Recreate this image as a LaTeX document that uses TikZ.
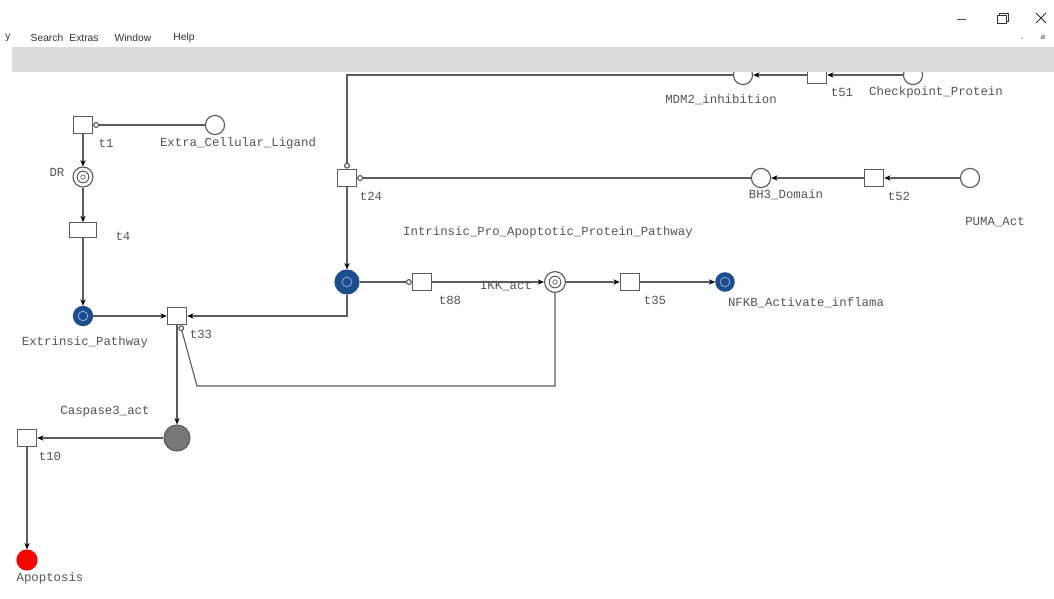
\documentclass[tikz,border=0pt]{standalone}
\usepackage{fontspec}
\usepackage{tikz}
\usetikzlibrary{arrows.meta,positioning,calc}
\newfontfamily\netfont{Liberation Mono}
\newfontfamily\menufont{Liberation Sans}
\definecolor{arcgray}{HTML}{5C5C5C}
\definecolor{labgray}{HTML}{555555}
\definecolor{tokblue}{HTML}{1C4E8F}
\definecolor{ringblue}{HTML}{8CA8D0}
\definecolor{bargray}{HTML}{DCDCDC}
\definecolor{caspgray}{HTML}{787878}
\tikzset{
  place/.style={circle,draw=arcgray,line width=0.8pt,fill=white,minimum size=4.8mm,inner sep=0pt},
  dplace/.style={place,minimum size=5mm,path picture={
      \draw[arcgray,line width=0.7pt] (path picture bounding box.center) circle (1.45mm);
      \draw[arcgray,line width=0.5pt] (path picture bounding box.center) circle (0.55mm);}},
  bplace/.style={place,draw=tokblue,fill=tokblue,path picture={
      \draw[ringblue,line width=0.6pt] (path picture bounding box.center) circle (1.2mm);}},
  trans/.style={rectangle,draw=arcgray,line width=0.8pt,fill=white,minimum width=4.8mm,minimum height=4.4mm,inner sep=0pt},
  wtrans/.style={trans,minimum width=6.8mm,minimum height=3.6mm},
  lab/.style={font=\netfont\fontsize{8.8}{10}\selectfont,text=labgray,inner sep=0pt},
  menu/.style={font=\menufont\fontsize{7.3}{8}\selectfont,text=black!80,inner sep=0pt},
  arc/.style={draw=arcgray,line width=0.8pt,-{Stealth[length=1.6mm,width=1.3mm,color=black]}},
  inh/.style={draw=arcgray,line width=0.8pt,-{Circle[open,length=1.5mm,color=arcgray]}}
}
\begin{document}
\begin{tikzpicture}[x=0.025cm,y=-0.025cm]
\fill[white] (0,0) rectangle (1054,599);
\useasboundingbox (0,0) rectangle (1054,599);
% places
\node[place] (ECL) at (215,125) {};
\node[dplace] (DR) at (83,177) {};
\node[bplace] (Extr) at (83,316) {};
\node[bplace,minimum size=6mm] (Intr) at (347,282) {};
\node[dplace,minimum size=5.2mm] (IKK) at (555,282) {};
\node[bplace,minimum size=4.6mm] (NFKB) at (725,282) {};
\node[place,fill=caspgray,minimum size=6.5mm] (Casp) at (177,438) {};
\node[place,draw=red,fill=red,minimum size=5mm] (Apop) at (27,560) {};
\node[place] (BH3) at (761,178) {};
\node[place] (PUMA) at (970,178) {};
\node[place] (MDM2) at (743,75) {};
\node[place] (Check) at (913,75) {};
% transitions
\node[trans] (t1) at (83,125) {};
\node[wtrans] (t4) at (83,230) {};
\node[trans] (t33) at (177,316) {};
\node[trans] (t24) at (347,178) {};
\node[trans] (t88) at (422,282) {};
\node[trans] (t35) at (630,282) {};
\node[trans] (t10) at (27,438) {};
\node[trans] (t52) at (874,178) {};
\node[trans] (t51) at (817,75) {};
\coordinate (topc) at (347,75);
\coordinate (botc) at (197,386);
% arcs
\draw[inh] (ECL) -- (t1);
\draw[arc] (t1) -- (DR);
\draw[arc] (DR) -- (t4);
\draw[arc] (t4) -- (Extr);
\draw[arc] (Extr) -- (t33);
\draw[arc] (Intr) |- (t33);
\draw[arc] (t24) -- (Intr);
\draw[inh] (MDM2) -- (topc) -- (t24);
\draw[arc] (t51) -- (MDM2);
\draw[arc] (Check) -- (t51);
\draw[inh] (BH3) -- (t24);
\draw[arc] (t52) -- (BH3);
\draw[arc] (PUMA) -- (t52);
\draw[inh] (Intr) -- (t88);
\draw[arc] (t88) -- (IKK);
\draw[arc] (IKK) -- (t35);
\draw[arc] (t35) -- (NFKB);
\draw[inh] (IKK) |- (botc) -- (t33.-70);
\draw[arc] (t33) -- (Casp);
\draw[arc] (Casp) -- (t10);
\draw[arc] (t10) -- (Apop);
% labels
\node[lab] (lt1) at (106,143) {t1};
\node[lab] (lECL) at (238,143) {Extra\_Cellular\_Ligand};
\node[lab] (lDR) at (57,172) {DR};
\node[lab] (lt4) at (123,236) {t4};
\node[lab] (lExtr) at (85,342) {Extrinsic\_Pathway};
\node[lab] (lt33) at (201,334) {t33};
\node[lab] (lt24) at (371,196) {t24};
\node[lab] (lIntr) at (548,232) {Intrinsic\_Pro\_Apoptotic\_Protein\_Pathway};
\node[lab] (lMDM2) at (721,100) {MDM2\_inhibition};
\node[lab] (lt51) at (842,92) {t51};
\node[lab] (lCheck) at (936,92) {Checkpoint\_Protein};
\node[lab] (lBH3) at (786,195) {BH3\_Domain};
\node[lab] (lt52) at (899,196) {t52};
\node[lab] (lPUMA) at (995,222) {PUMA\_Act};
\node[lab] (lt88) at (450,300) {t88};
\node[lab] (lIKK) at (506,286) {IKK\_act};
\node[lab] (lt35) at (655,300) {t35};
\node[lab] (lNFKB) at (806,303) {NFKB\_Activate\_inflama};
\node[lab] (lCasp) at (105,412) {Caspase3\_act};
\node[lab] (lt10) at (50,456) {t10};
\node[lab] (lApop) at (50,578) {Apoptosis};
% window chrome
\fill[bargray] (12,47) rectangle (1054,72);
\node[menu] (mY) at (8,38) {y};
\node[menu] (mSearch) at (47,38) {Search};
\node[menu] (mExtras) at (84,38) {Extras};
\node[menu] (mWindow) at (133,38) {Window};
\node[menu] (mHelp) at (184,38) {Help};
\node[menu,font=\menufont\fontsize{5}{6}\selectfont] (mMin) at (1022,39) {-};
\node[menu,font=\menufont\fontsize{5}{6}\selectfont] (mRes) at (1043,38) {ø};
\draw[black!70,line width=0.5pt] (957,19) -- (966,19);
\draw[black!80,line width=0.6pt] (997,15) rectangle (1006,23) (999,15) -- (999,13) -- (1008,13) -- (1008,21) -- (1006,21);
\draw[black!80,line width=0.6pt] (1036,13) -- (1046,23) (1046,13) -- (1036,23);
\end{tikzpicture}
\end{document}
